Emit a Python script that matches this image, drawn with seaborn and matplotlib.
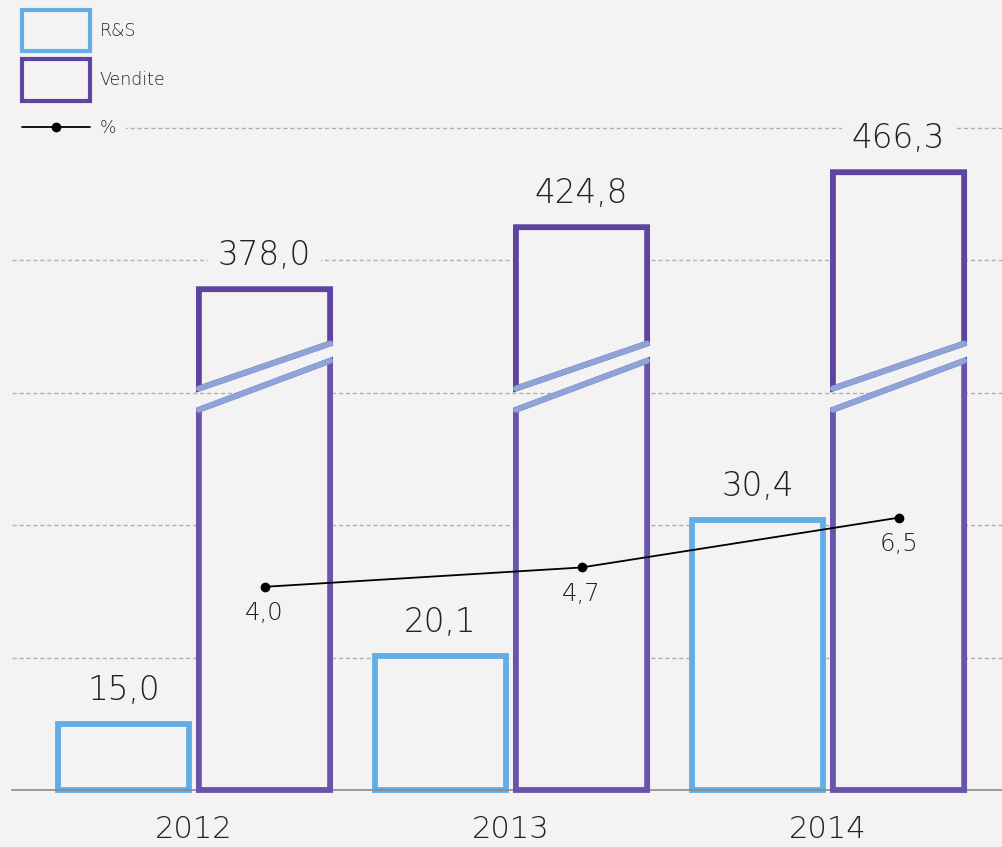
import matplotlib
matplotlib.use("Agg")
import matplotlib.pyplot as plt
from matplotlib.patches import Polygon, Patch
from matplotlib.lines import Line2D
import pandas as pd
import seaborn as sns

# --- data ---
years = ["2012", "2013", "2014"]
series = ["R&S", "Vendite"]
rs_values = [15.0, 20.1, 30.4]
vendite_values = [378.0, 424.8, 466.3]
pct_values = [4.0, 4.7, 6.5]

# every series has its own scale in the original
rs_ylim = (10, 62.1)
vendite_ylim = (0, 520.8)
pct_ylim = (-3.35, 21.61)
grid_ticks = [20, 30, 40, 50, 60]
# where the Vendite bars are cut (Vendite units, left side / right side)
break_hi = (303, 337)
break_lo = (287, 324)

BG = "#f3f3f3"
RS_COLOR = "#62aee4"
VEND_TOP = "#5d44a0"
VEND_BOTTOM = "#6a54aa"
VEND_CUT = "#8fa3d6"
TEXT = "#222222"
EDGE_LW = 4.2


def fmt(v):
    return f"{v:.1f}".replace(".", ",")


sns.set_theme(style="white")
plt.rcParams["font.family"] = ["DejaVu Sans"]
FONT = dict(fontweight="light", color=TEXT)

fig = plt.figure(figsize=(10.03, 8.47), dpi=100, facecolor=BG)
ax = fig.add_axes([12 / 1003, 57 / 847, 991 / 1003, 690 / 847])
ax.set_facecolor(BG)
ax2 = ax.twinx()
ax3 = ax.twinx()
for a in (ax2, ax3):
    a.patch.set_visible(False)

df_rs = pd.DataFrame({"anno": years, "serie": "R&S", "valore": rs_values})
df_v = pd.DataFrame({"anno": years, "serie": "Vendite", "valore": vendite_values})
palette = {"R&S": RS_COLOR, "Vendite": VEND_TOP}

sns.barplot(data=df_rs, x="anno", y="valore", hue="serie", hue_order=series,
            palette=palette, width=0.89, gap=0.07, dodge=True, errorbar=None,
            legend=False, ax=ax)
sns.barplot(data=df_v, x="anno", y="valore", hue="serie", hue_order=series,
            palette=palette, width=0.89, gap=0.07, dodge=True, errorbar=None,
            legend=False, ax=ax2)

ax.set_ylim(*rs_ylim)
ax2.set_ylim(*vendite_ylim)
ax3.set_ylim(*pct_ylim)

# R&S bars: outline only, starting at the baseline of the axis
for p, v in zip(ax.patches, rs_values):
    p.set_y(rs_ylim[0])
    p.set_height(v - rs_ylim[0])
    p.set_facecolor(BG)
    p.set_edgecolor(RS_COLOR)
    p.set_linewidth(EDGE_LW)
    p.set_joinstyle("miter")
    p.set_clip_on(False)
    ax.annotate(fmt(v), (p.get_x() + p.get_width() / 2, v),
                xytext=(0, 24), textcoords="offset points",
                ha="center", va="center", fontsize=23.5, **FONT)

# Vendite bars: cut in two by a diagonal break
centers = []
for p, v in zip(list(ax2.patches), vendite_values):
    x0 = p.get_x()
    x1 = x0 + p.get_width()
    centers.append((x0 + x1) / 2)
    p.set_visible(False)
    upper = Polygon([(x0, v), (x1, v), (x1, break_hi[1]), (x0, break_hi[0])],
                    closed=True, facecolor=BG, edgecolor=VEND_TOP,
                    linewidth=EDGE_LW, joinstyle="miter", clip_on=False)
    lower = Polygon([(x0, 0), (x0, break_lo[0]), (x1, break_lo[1]), (x1, 0)],
                    closed=True, facecolor=BG, edgecolor=VEND_BOTTOM,
                    linewidth=EDGE_LW, joinstyle="miter", clip_on=False)
    ax2.add_patch(lower)
    ax2.add_patch(upper)
    for cut in (break_hi, break_lo):
        ax2.plot([x0, x1], list(cut), color=VEND_CUT, lw=EDGE_LW,
                 solid_capstyle="round")
    ax2.annotate(fmt(v), ((x0 + x1) / 2, v), xytext=(0, 24),
                 textcoords="offset points", ha="center", va="center",
                 fontsize=23.5, bbox=dict(boxstyle="square,pad=0.3", fc=BG, ec="none"),
                 **FONT)

# percentage line over the Vendite bars
sns.lineplot(x=centers, y=pct_values, ax=ax3, color="black", lw=1.3,
             marker="o", markersize=7, markeredgewidth=0, sort=False)
for x, v in zip(centers, pct_values):
    ax3.annotate(fmt(v), (x, v), xytext=(0, -19), textcoords="offset points",
                 ha="center", va="center", fontsize=17.5, **FONT)

# axes styling
ax.set_xlim(-0.574, 2.552)
ax.set_yticks(grid_ticks)
ax.yaxis.grid(True, color="#b0b0b0", linestyle=(0, (3, 2)), lw=1)
ax.xaxis.grid(False)
ax.set_axisbelow(True)
ax.tick_params(axis="y", left=False, labelleft=False)
ax.set_xticks(range(len(years)))
ax.set_xticklabels(years, fontsize=22, fontweight="light", color=TEXT)
ax.tick_params(axis="x", length=0, pad=18)
for a in (ax, ax2, ax3):
    a.set_xlabel("")
    a.set_ylabel("")
    for s in a.spines.values():
        s.set_visible(False)
for a in (ax2, ax3):
    a.tick_params(axis="y", right=False, labelright=False)
ax.spines["bottom"].set_visible(True)
ax.spines["bottom"].set_color("#8a8a8a")
ax.spines["bottom"].set_linewidth(1.2)

# legend in the top left corner: the boxes, then the % line on the top gridline
box_handles = [
    Patch(facecolor="none", edgecolor=RS_COLOR, linewidth=3),
    Patch(facecolor="none", edgecolor=VEND_TOP, linewidth=3),
]
fig.legend(box_handles, series, loc="upper left",
           bbox_to_anchor=(17 / 1003, 1 - 5 / 847), borderaxespad=0,
           frameon=False, handlelength=3.9, handleheight=3.28,
           labelspacing=0.46, handletextpad=0.57, borderpad=0.3,
           prop=dict(size=12.5, weight="light"))
line_handle = Line2D([], [], color="black", lw=1.3, marker="o",
                     markersize=7, markeredgewidth=0)
fig.legend([line_handle], ["%"], loc="center left",
           bbox_to_anchor=(12 / 1003, 1 - 128 / 847), borderaxespad=0,
           frameon=True, facecolor=BG, edgecolor="none", framealpha=1,
           fancybox=False, handlelength=3.9, handletextpad=0.57,
           borderpad=0.57, prop=dict(size=12.5, weight="light"))

fig.savefig("out.png", dpi=100, facecolor=BG)
